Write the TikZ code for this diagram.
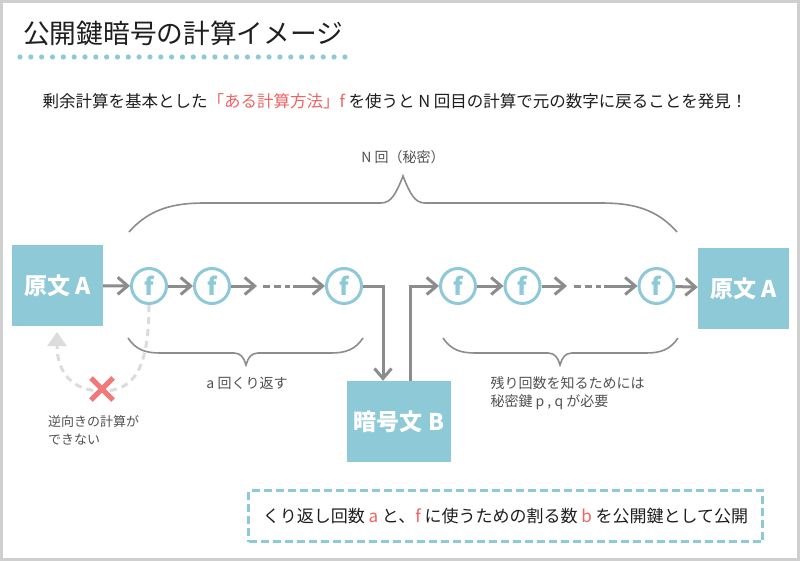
\documentclass[tikz,border=0pt]{standalone}
\usepackage{fontspec}
\setmainfont{Noto Sans CJK JP}
\usepackage{tikz}
\usetikzlibrary{arrows.meta, positioning, calc, shapes.misc}
\definecolor{Teal}{HTML}{8DC9D6}
\definecolor{Salmon}{HTML}{EE6464}
\definecolor{CrossRed}{HTML}{F07A7A}
\definecolor{Slate}{HTML}{8C8C8C}
\definecolor{Ink}{HTML}{1E1E1E}
\definecolor{Mist}{HTML}{DCDCDC}
\definecolor{Frame}{HTML}{CFCFCF}
\newcommand{\emphred}[1]{\textcolor{Salmon}{#1}}
\newcommand{\px}[1]{\fontsize{#1}{#1}\selectfont}
% small brace under a chain: left end, right end, tip
\newcommand{\lowbrace}[3]{%
    \draw[brace] (#1,338) .. controls (#1+8,350) and (#1+18,353) .. (#1+32,353)
        -- (#3-12,353) .. controls (#3-5,353) and (#3-2,358) .. (#3,365)
        .. controls (#3+2,358) and (#3+5,353) .. (#3+12,353)
        -- (#2-32,353) .. controls (#2-18,353) and (#2-8,350) .. (#2,338);
}

\begin{document}
\begin{tikzpicture}[x=1pt, y=-1pt,
    textbox/.style={rectangle, fill=Teal, text=white, inner sep=0pt,
        minimum width=91pt, minimum height=81pt, font=\px{23}\bfseries},
    fcircle/.style={circle, draw=Teal, line width=3pt, fill=white,
        minimum size=35pt, inner sep=0pt, text=Teal, font=\px{24}\bfseries},
    flow/.style={draw=Slate, line width=3pt,
        -{Straight Barb[length=10pt, width=17pt]}},
    gap/.style={draw=Slate, line width=3pt, dash pattern=on 7pt off 4pt},
    brace/.style={draw=Slate, line width=1.6pt},
    note/.style={text=black!68, font=\px{14}},
]
    \useasboundingbox (0,0) rectangle (800,561);
    \fill[white] (0,0) rectangle (800,561);
    \draw[Frame, line width=3pt] (1.5,1.5) rectangle (798.5,559.5);

    % Title and dotted rule
    \node[anchor=west, inner sep=0pt, text=Ink, font=\px{26.7}] (title)
        at (23,33) {公開鍵暗号の計算イメージ};
    \foreach \i in {0,...,30} {
        \fill[Teal] (20+\i*10.83,57) circle (2.6pt);
    }
    \node[inner sep=0pt, text=Ink, font=\px{16.5}] (lead) at (395,101)
        {剰余計算を基本とした\emphred{「ある計算方法」f} を使うと N 回目の計算で元の数字に戻ることを発見！};

    % Boxes
    \node[textbox] (plainL) at (57.5,285.5) {原文 A};
    \node[textbox, minimum width=104pt] (cipher) at (399,421.5) {暗号文 B};
    \node[textbox] (plainR) at (743.5,288.5) {原文 A};

    % f circles
    \foreach \n/\x in {f1/149, f2/212, f3/344, f4/458, f5/522.5, f6/656.5} {
        \node[fcircle] (\n) at (\x,286) {f};
    }
    \coordinate (skipA) at (257,286);
    \coordinate (skipB) at (263,286);
    \coordinate (skipC) at (290,286);
    \coordinate (skipD) at (293,286);
    \coordinate (skipE) at (567,286);
    \coordinate (skipF) at (574,286);
    \coordinate (skipG) at (601,286);
    \coordinate (skipH) at (604,286);

    % Encryption chain
    \draw[flow] (plainL) -- (f1);
    \draw[flow] (f1) -- (f2);
    \draw[flow] (f2) -- (skipA);
    \draw[gap] (skipB) -- (skipC);
    \draw[flow] (skipD) -- (f3);
    \draw[flow] (f3) -| ([xshift=-16pt]cipher.north);

    % Decryption chain
    \draw[flow] ([xshift=11pt]cipher.north) |- (f4);
    \draw[flow] (f4) -- (f5);
    \draw[flow] (f5) -- (skipE);
    \draw[gap] (skipF) -- (skipG);
    \draw[flow] (skipH) -- (f6);
    \draw[flow] (f6) -- (plainR);

    % Braces
    \draw[brace] (129,232) .. controls (150,208) and (175,203) .. (205,203)
        -- (381,203) .. controls (391,203) and (396,194) .. (403,176)
        .. controls (410,194) and (415,203) .. (425,203)
        -- (601,203) .. controls (631,203) and (656,208) .. (677,232);
    \node[note] (secret) at (403,157) {N 回（秘密）};
    \lowbrace{128}{363}{246}
    \lowbrace{443}{678}{560}
    \node[note] (repeat) at (247,383) {a 回くり返す};
    \node[note, anchor=west, align=left] (remain) at (487,393)
        {残り回数を知るためには\\[4pt]秘密鍵 p , q が必要};

    % No way back
    \coordinate (back) at (57,332);
    \draw[Mist, line width=3pt, dash pattern=on 7pt off 5pt,
          -{Triangle[length=14pt, width=19pt]}]
        (f1.south) .. controls (149,372) and (132,391) .. (102,391)
        .. controls (72,391) and (57,372) .. (back);
    \node[cross out, draw=CrossRed, line width=5pt, minimum size=17pt,
          inner sep=0pt] (nope) at (102,389) {};
    \node[note, font=\px{13}, anchor=north west, align=left, inner sep=0pt]
        (cannot) at (48,415) {逆向きの計算が\\[5pt]できない};

    % Public key note
    \node[draw=Teal, line width=2.6pt, dash pattern=on 8pt off 4pt,
          minimum width=514pt, minimum height=51pt, text=Ink, font=\px{17}]
        (public) at (505.5,516)
        {くり返し回数 \emphred{a} と、\emphred{f} に使うための割る数 \emphred{b} を公開鍵として公開};
\end{tikzpicture}
\end{document}
